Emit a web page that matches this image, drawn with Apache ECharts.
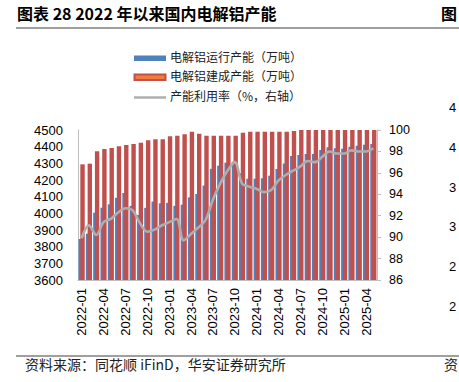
<!DOCTYPE html>
<html>
<head>
<meta charset="utf-8">
<script src="https://cdn.jsdelivr.net/npm/echarts@6/dist/echarts.min.js"></script>
<style>
html,body{margin:0;padding:0;background:#fff;}
#c{width:459px;height:382px;}
</style>
</head>
<body>
<div id="c"></div>
<script>
const categories = [
  '2022-01','2022-02','2022-03','2022-04','2022-05','2022-06','2022-07','2022-08','2022-09','2022-10','2022-11','2022-12',
  '2023-01','2023-02','2023-03','2023-04','2023-05','2023-06','2023-07','2023-08','2023-09','2023-10','2023-11','2023-12',
  '2024-01','2024-02','2024-03','2024-04','2024-05','2024-06','2024-07','2024-08','2024-09','2024-10','2024-11','2024-12',
  '2025-01','2025-02','2025-03','2025-04','2025-05'
];
const runningCapacity = [
  3846, 3878, 4004, 4034, 4054, 4093, 4122, 4045, 3990, 4033, 4071, 4060,
  4063, 4045, 4052, 4096, 4116, 4167, 4267, 4286, 4304, 4310, 4240, 4208,
  4208, 4210, 4226, 4266, 4299, 4344, 4350, 4356, 4356, 4380, 4396, 4390,
  4388, 4400, 4405, 4411, 4416
];
const builtCapacity = [
  4294, 4298, 4372, 4386, 4392, 4402, 4410, 4416, 4424, 4438, 4444, 4444,
  4462, 4466, 4474, 4490, 4478, 4466, 4466, 4466, 4466, 4466, 4484, 4490,
  4490, 4490, 4490, 4490, 4490, 4494, 4500, 4500, 4500, 4500, 4500, 4500,
  4500, 4500, 4500, 4500, 4500
];
const utilization = [
  89.9, 91.1, 90.2, 91.4, 91.7, 92.3, 92.7, 92.5, 91.3, 90.5, 90.7, 91.1,
  91.4, 91.7, 89.7, 90.3, 90.9, 91.6, 93.5, 95.0, 96.2, 97.0, 95.0, 94.7,
  94.5, 94.2, 94.4, 95.3, 95.8, 96.2, 96.6, 97.1, 97.0, 97.5, 98.0, 97.8,
  97.8, 98.1, 98.0, 98.0, 98.3
];
const leftTicks = {min: 3600, max: 4500, interval: 100};
const rightTicks = {min: 86, max: 100, interval: 2};
const seriesNames = ['电解铝运行产能（万吨）', '电解铝建成产能（万吨）', '产能利用率（%，右轴）'];
const titleText = '图表 28 2022 年以来国内电解铝产能';
const sourceText = '资料来源：同花顺 iFinD，华安证券研究所';
const sideFragments = ['4', '4', '3', '3', '2', '2'];

const cjk = '"Noto Sans CJK SC", "Noto Sans", sans-serif';
const num = '"Liberation Sans", Arial, sans-serif';
const BLUE = '#4F81BD', RED = '#C0504D', GRAY = '#AEAEAE';

const chart = echarts.init(document.getElementById('c'), null, {renderer: 'svg'});

const graphics = [
  {type: 'text', left: 17, top: 5, style: {text: titleText, font: 'bold 16px ' + cjk, fill: '#000'}},
  {type: 'text', left: 441, top: 5, style: {text: '图', font: 'bold 16px ' + cjk, fill: '#000'}},
  {type: 'line', shape: {x1: 16, y1: 28, x2: 459, y2: 28}, style: {stroke: '#7F7F7F', lineWidth: 1.5}},
  {type: 'line', shape: {x1: 16, y1: 356, x2: 459, y2: 356}, style: {stroke: '#404040', lineWidth: 1}},
  {type: 'text', left: 25, top: 357, style: {text: sourceText, font: '14px ' + cjk, fill: '#222'}},
  {type: 'text', left: 444, top: 357, style: {text: '资', font: '14px ' + cjk, fill: '#222'}},
  // legend
  {type: 'rect', shape: {x: 134, y: 55.5, width: 32, height: 5.5}, style: {fill: BLUE}},
  {type: 'text', left: 170, top: 50, style: {text: seriesNames[0], font: '12px ' + cjk, fill: '#222'}},
  {type: 'rect', shape: {x: 134.5, y: 74.5, width: 31, height: 5.5}, style: {fill: '#F07E3A', stroke: RED, lineWidth: 2}},
  {type: 'text', left: 170, top: 69.5, style: {text: seriesNames[1], font: '12px ' + cjk, fill: '#222'}},
  {type: 'line', shape: {x1: 134, y1: 97.5, x2: 166, y2: 97.5}, style: {stroke: GRAY, lineWidth: 2.5}},
  {type: 'text', left: 170, top: 89, style: {text: seriesNames[2], font: '12px ' + cjk, fill: '#222'}}
];
sideFragments.forEach(function (t, k) {
  graphics.push({type: 'text', left: 449, top: 101 + k * 39.8, style: {text: t, font: '13px ' + num, fill: '#000'}});
});

chart.setOption({
  animation: false,
  backgroundColor: '#fff',
  grid: {left: 78, right: 82, top: 130, bottom: 102},
  graphic: graphics,
  xAxis: {
    type: 'category',
    data: categories,
    axisLine: {show: true, lineStyle: {color: '#BFBFBF', width: 1}},
    axisTick: {show: false},
    axisLabel: {interval: 2, rotate: 90, margin: 8, fontSize: 13, fontFamily: num, color: '#000'}
  },
  yAxis: [
    {
      type: 'value', min: leftTicks.min, max: leftTicks.max, interval: leftTicks.interval,
      splitLine: {show: false},
      axisLine: {show: true, lineStyle: {color: '#BFBFBF', width: 1}},
      axisTick: {show: false},
      axisLabel: {margin: 15, fontSize: 13, fontFamily: num, color: '#000', formatter: function (v) { return String(v); }}
    },
    {
      type: 'value', position: 'right', min: rightTicks.min, max: rightTicks.max, interval: rightTicks.interval,
      splitLine: {show: false},
      axisLine: {show: true, lineStyle: {color: '#BFBFBF', width: 1}},
      axisTick: {show: true, length: 4, lineStyle: {color: '#BFBFBF'}},
      axisLabel: {margin: 12, fontSize: 12.5, fontFamily: num, color: '#000', formatter: function (v) { return String(v); }}
    }
  ],
  series: [
    {
      name: seriesNames[0], type: 'bar', data: runningCapacity, yAxisIndex: 0,
      barWidth: 4.4, barGap: '-60%', itemStyle: {color: BLUE}, z: 2
    },
    {
      name: seriesNames[1], type: 'bar', data: builtCapacity, yAxisIndex: 0,
      barWidth: 4.4, barGap: '-60%', itemStyle: {color: RED}, z: 3
    },
    {
      name: seriesNames[2], type: 'line', data: utilization, yAxisIndex: 1,
      smooth: 0.35, showSymbol: false, symbol: 'none',
      lineStyle: {color: GRAY, width: 2.6}, z: 4
    }
  ]
});
</script>
</body>
</html>
